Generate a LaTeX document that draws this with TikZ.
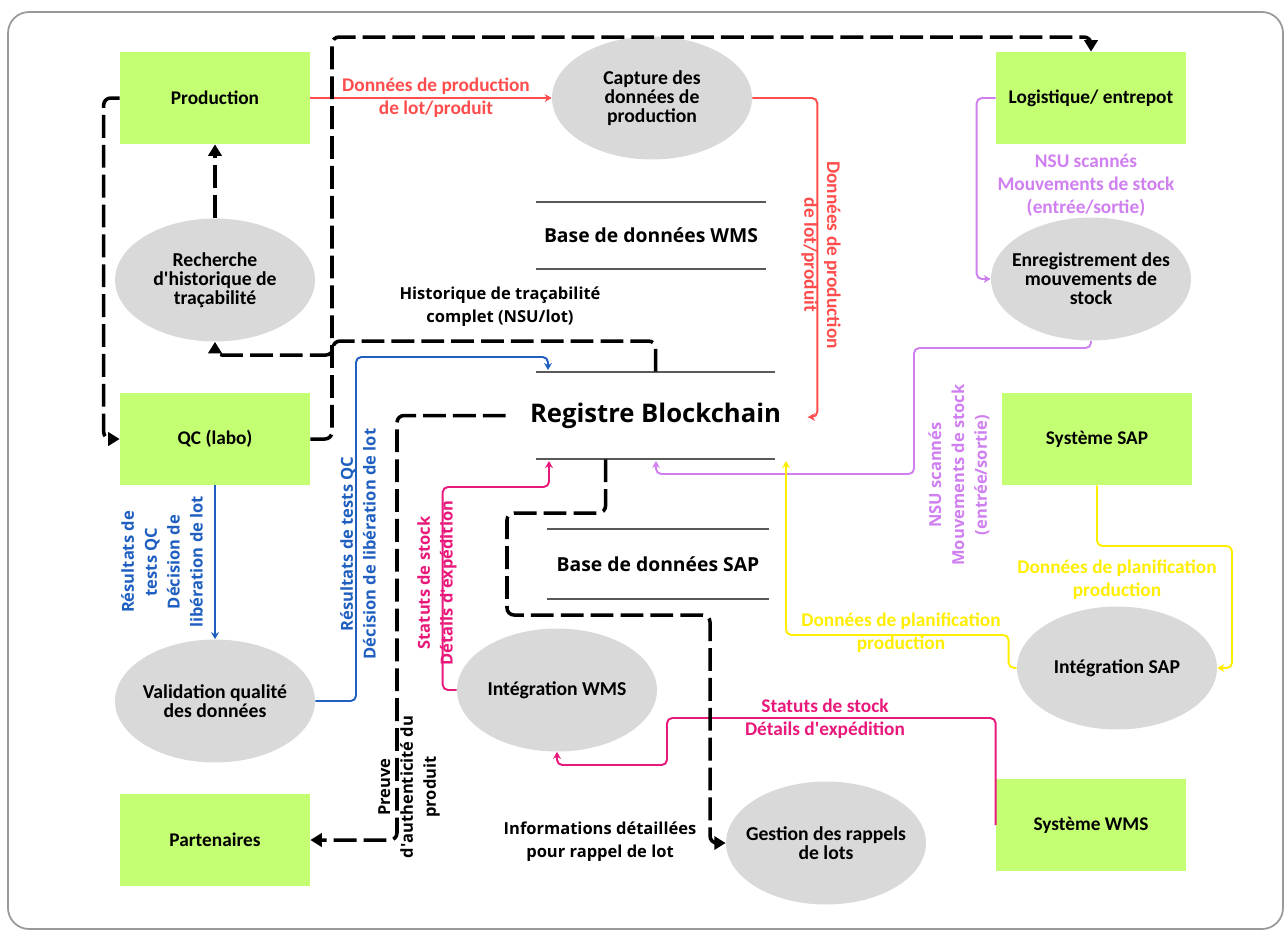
\documentclass[tikz,border=0pt]{standalone}
\usepackage{fontspec}
\setmainfont{Carlito}
\newfontfamily\osans{Open Sans}
\usetikzlibrary{shapes.geometric,arrows.meta}

\definecolor{boxgreen}{HTML}{C4FF73}
\definecolor{procgray}{HTML}{D9D9D9}
\definecolor{flowred}{HTML}{FF4D4D}
\definecolor{flowblue}{HTML}{1F5FC0}
\definecolor{flowviolet}{HTML}{CF7FF0}
\definecolor{flowyellow}{HTML}{FFEE00}
\definecolor{flowpink}{HTML}{E8197A}

% straight apostrophe
\newcommand{\ap}{\textquotesingle}

\begin{document}
\begin{tikzpicture}[x=0.02cm, y=-0.02cm,
        entity/.style={fill=boxgreen, minimum width=3.8cm, minimum height=1.84cm,
                font=\bfseries\fontsize{11}{12}\selectfont},
        process/.style={ellipse, fill=procgray, minimum width=4cm, minimum height=2.46cm,
                inner xsep=-16pt, inner ysep=-6pt, align=center,
                font=\bfseries\fontsize{11.2}{10.8}\selectfont},
        store/.style={inner sep=0pt, font=\osans\bfseries\fontsize{11}{13}\selectfont},
        storeline/.style={draw=black!65, line width=1.1pt},
        lab/.style={align=center, inner sep=0pt, font=\bfseries\fontsize{11}{13}\selectfont},
        vlab/.style={align=center, inner sep=0pt, font=\osans\bfseries\fontsize{9.4}{13}\selectfont},
        flow/.style={line width=1.1pt, rounded corners=3pt, -{Stealth[length=4pt,width=4.5pt]}},
        link/.style={line width=2pt, dash pattern=on 13pt off 4pt, rounded corners=4pt,
                -{Triangle[length=6.5pt,width=7.5pt]}}
    ]
    \useasboundingbox (0,0) rectangle (1285,931);
    \draw[black!40, line width=1pt, rounded corners=12pt] (8,12) rectangle (1283,929);

    % external systems
    \node[entity] (prod) at (215,98) {Production};
    \node[entity] (logi) at (1091,98) {Logistique/ entrepot};
    \node[entity] (qc) at (215,439) {QC (labo)};
    \node[entity] (sap) at (1097,439) {Système SAP};
    \node[entity] (wms) at (1091,825) {Système WMS};
    \node[entity] (part) at (215,840) {Partenaires};

    % processes
    \node[process] (capture) at (652,98) {Capture des\\données de\\production};
    \node[process] (recherche) at (215,280) {Recherche\\d\ap historique de\\traçabilité};
    \node[process] (enreg) at (1091,279) {Enregistrement des\\mouvements de\\stock};
    \node[process] (validation) at (215,701) {Validation qualité\\des données};
    \node[process] (intsap) at (1117,668) {Intégration SAP};
    \node[process] (intwms) at (557,690) {Intégration WMS};
    \node[process] (rappel) at (826,843) {Gestion des rappels\\de lots};

    % data stores
    \node[store, minimum width=4.6cm, minimum height=1.34cm] (bdwms) at (651,235.5) {Base de données WMS};
    \node[store, minimum width=4.78cm, minimum height=1.74cm, inner xsep=-0.2cm,
        font=\osans\bfseries\fontsize{14.6}{16}\selectfont] (registre) at (655.5,415.5) {Registre Blockchain};
    \node[store, minimum width=4.44cm, minimum height=1.4cm] (bdsap) at (658,564) {Base de données SAP};
    \foreach \s in {bdwms,registre,bdsap} {
        \draw[storeline] (\s.north west) -- (\s.north east);
        \draw[storeline] (\s.south west) -- (\s.south east);
    }

    \coordinate (redin) at (808,417);
    \coordinate (bluein) at (548,370);
    \coordinate (pinkin) at (549,461);
    \coordinate (violetin) at (656,461);
    \coordinate (yellowin) at (786,461);

    % production data
    \draw[flow, flowred] (prod) -- (capture);
    \node[lab, text=flowred] at (436,98) {Données de production\\de lot/produit};
    \draw[flow, flowred] (capture.east) -- ++(65,0) |- (redin);
    \node[lab, text=flowred, rotate=-90] at (821,255) {Données de production\\de lot/produit};

    % stock movements
    \draw[flow, flowviolet] (logi.west) -- ++(-19,0) |- (enreg.west);
    \node[lab, text=flowviolet] at (1086,185) {NSU scannés\\Mouvements de stock\\(entrée/sortie)};
    \draw[flow, flowviolet] (enreg.south) |- (914,348) |- (656,474) -- (violetin);
    \node[vlab, text=flowviolet, rotate=90] at (959,475) {NSU scannés\\Mouvements de stock\\(entrée/sortie)};

    % planning
    \draw[flow, flowyellow] (sap.south) |- (1232,546) |- (intsap.east);
    \node[lab, text=flowyellow] at (1117,580) {Données de planification\\production};
    \draw[flow, flowyellow] (intsap.west) -- ++(-8,0) |- (786,635) -- (yellowin);
    \node[lab, text=flowyellow] at (901,633) {Données de planification\\production};

    % stock status
    \draw[flow, flowpink] (wms.west) -- ++(0,-107) -| (667,765) -| (intwms.south);
    \node[lab, text=flowpink] at (825,719) {Statuts de stock\\Détails d\ap expédition};
    \draw[flow, flowpink] (intwms.west) -- ++(-14,0) |- (549,487) -- (pinkin);
    \node[vlab, text=flowpink, rotate=90] at (437,583) {Statuts de stock\\Détails d\ap expédition};

    % quality control
    \draw[flow, flowblue] (qc.south) -- (validation.north);
    \node[vlab, text=flowblue, rotate=90] at (162,562) {Résultats de\\tests QC\\Décision de\\libération de lot};
    \draw[flow, flowblue] (validation.east) -| (356,357) -| (bluein);
    \node[vlab, text=flowblue, rotate=90] at (358,544) {Résultats de tests QC\\Décision de libération de lot};

    % traceability links
    \draw[link] (recherche) -- (prod);
    \draw[link] (prod.west) -- ++(-16,0) |- (qc.west);
    \draw[link] (qc.east) -| (332,37) -| (logi.north);
    \draw[link] (registre.north) |- (333,341) |- (215,355) -- (recherche.south);
    \node[vlab] at (500,307) {Historique de traçabilité\\complet (NSU/lot)};
    \draw[link, shorten <=0.6cm] (registre.west) -| (397,840) -- (part.east);
    \node[vlab, rotate=90] at (409,787) {Preuve\\d\ap authenticité du\\produit};
    \draw[link] ([xshift=-1cm]registre.south) |- (507,513) |- (710,615) |- (rappel.west);
    \node[vlab] at (600,842) {Informations détaillées\\pour rappel de lot};
\end{tikzpicture}
\end{document}
